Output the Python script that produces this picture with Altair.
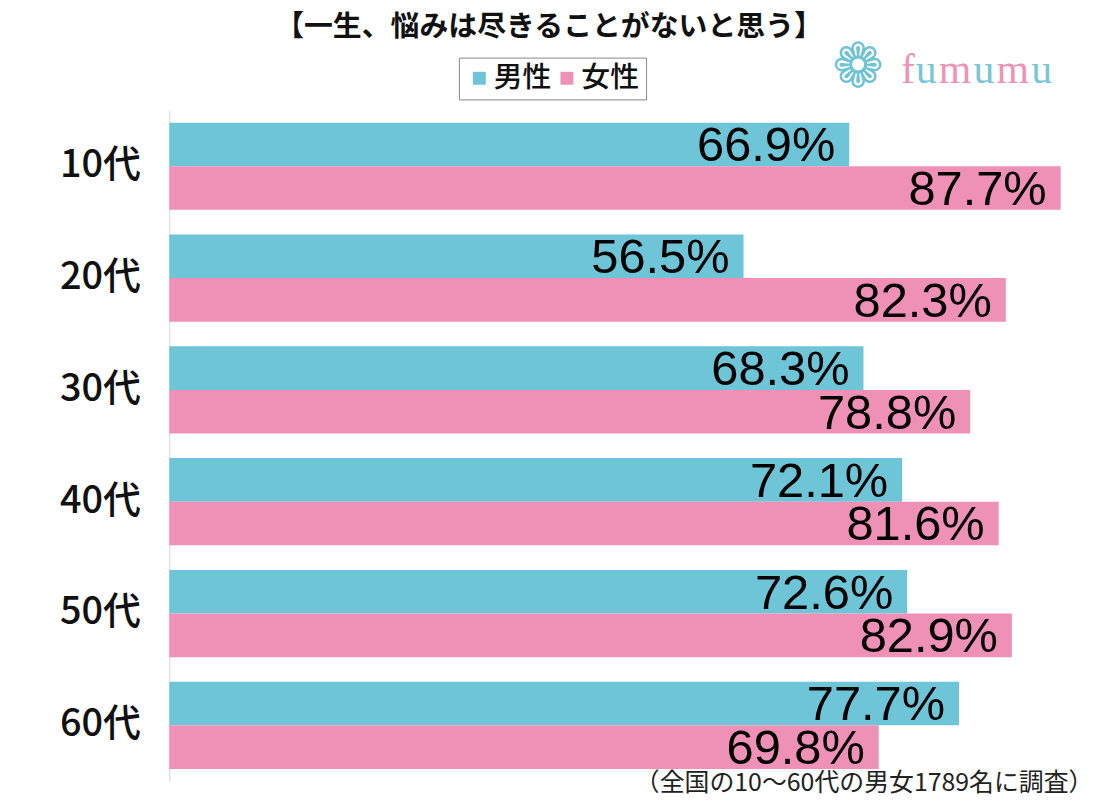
import altair as alt
import pandas as pd

ages = ["10代", "20代", "30代", "40代", "50代", "60代"]
male = [66.9, 56.5, 68.3, 72.1, 72.6, 77.7]
female = [87.7, 82.3, 78.8, 81.6, 82.9, 69.8]
genders = ["男性", "女性"]
colors = ["#6FC5D8", "#EF91B7"]

rows = []
for a, m, f in zip(ages, male, female):
    rows.append({"age": a, "gender": "男性", "value": m, "label": f"{m:.1f}%"})
    rows.append({"age": a, "gender": "女性", "value": f, "label": f"{f:.1f}%"})
df = pd.DataFrame(rows)

JP = "Noto Sans CJK JP"

x_enc = alt.X(
    "value:Q",
    scale=alt.Scale(domain=[0, 90]),
    axis=alt.Axis(
        labels=False, ticks=False, domain=False, grid=False,
        title="（全国の10〜60代の男女1789名に調査）",
        titleAnchor="end", titleAlign="right", titleX=928, titleY=1,
        titleBaseline="middle", titleFontSize=25, titleFont=JP,
        titleFontWeight="normal", titleColor="#222",
    ),
)
y_enc = alt.Y(
    "age:N", sort=ages,
    scale=alt.Scale(paddingInner=0.22, paddingOuter=0.11),
    axis=alt.Axis(
        title=None, ticks=False, domainColor="#d6d6d6", domainWidth=1,
        labelFontSize=38, labelFont=JP, labelFontWeight=500,
        labelColor="#111", labelPadding=29,
    ),
)
yoff = alt.YOffset("gender:N", sort=genders)

base = alt.Chart(df)

bars = base.mark_bar().encode(
    x=x_enc,
    y=y_enc,
    yOffset=yoff,
    color=alt.Color(
        "gender:N",
        scale=alt.Scale(domain=genders, range=colors),
        legend=alt.Legend(
            orient="none", legendX=291, legendY=-53, direction="horizontal",
            title=None, symbolType="square", symbolSize=169,
            labelFontSize=29, labelFont=JP, labelFontWeight=500,
            labelColor="#111",
            strokeColor="#888", padding=6, columnPadding=0, labelOffset=0,
            symbolStrokeWidth=0, fillColor="white",
        ),
    ),
)

labels = base.mark_text(
    align="right", baseline="alphabetic", dx=-14, dy=17,
    font="Liberation Sans", fontSize=49, color="#000",
).encode(
    x="value:Q",
    y=alt.Y("age:N", sort=ages),
    yOffset=yoff,
    text="label:N",
)

logo_df = pd.DataFrame({"t": ["x"]})
flower = alt.Chart(logo_df).mark_text(
    text="❁", font="DejaVu Sans", fontSize=62, color="#6FC3D5",
    align="center", baseline="middle",
).encode(x=alt.value(692), y=alt.value(-42))

letters = ["f", "u", "m", "u", "m", "u"]
letter_colors = ["#EE93B6", "#79C6D6", "#EE93B6", "#79C6D6", "#EE93B6", "#79C6D6"]
letter_x = [735, 750, 773, 808, 831, 866]
logo_layers = []
for ch, c, lx in zip(letters, letter_colors, letter_x):
    logo_layers.append(
        alt.Chart(logo_df).mark_text(
            text=ch, font="Liberation Serif", fontSize=42, color=c,
            align="left", baseline="alphabetic",
        ).encode(x=alt.value(lx), y=alt.value(-27))
    )

chart = alt.layer(bars, labels, flower, *logo_layers).properties(
    width=919,
    height=674,
    padding={"left": 162, "top": 101, "right": 10, "bottom": 17},
    autosize=alt.AutoSizeParams(type="none"),
    title=alt.TitleParams(
        text="【一生、悩みは尽きることがないと思う】",
        fontSize=29, font=JP, fontWeight="bold", color="#111",
        anchor="middle", frame="group", dx=-78, dy=29, offset=25,
    ),
).configure_view(stroke=None)

chart.save("out.html", embed_options={"renderer": "svg", "actions": False})
